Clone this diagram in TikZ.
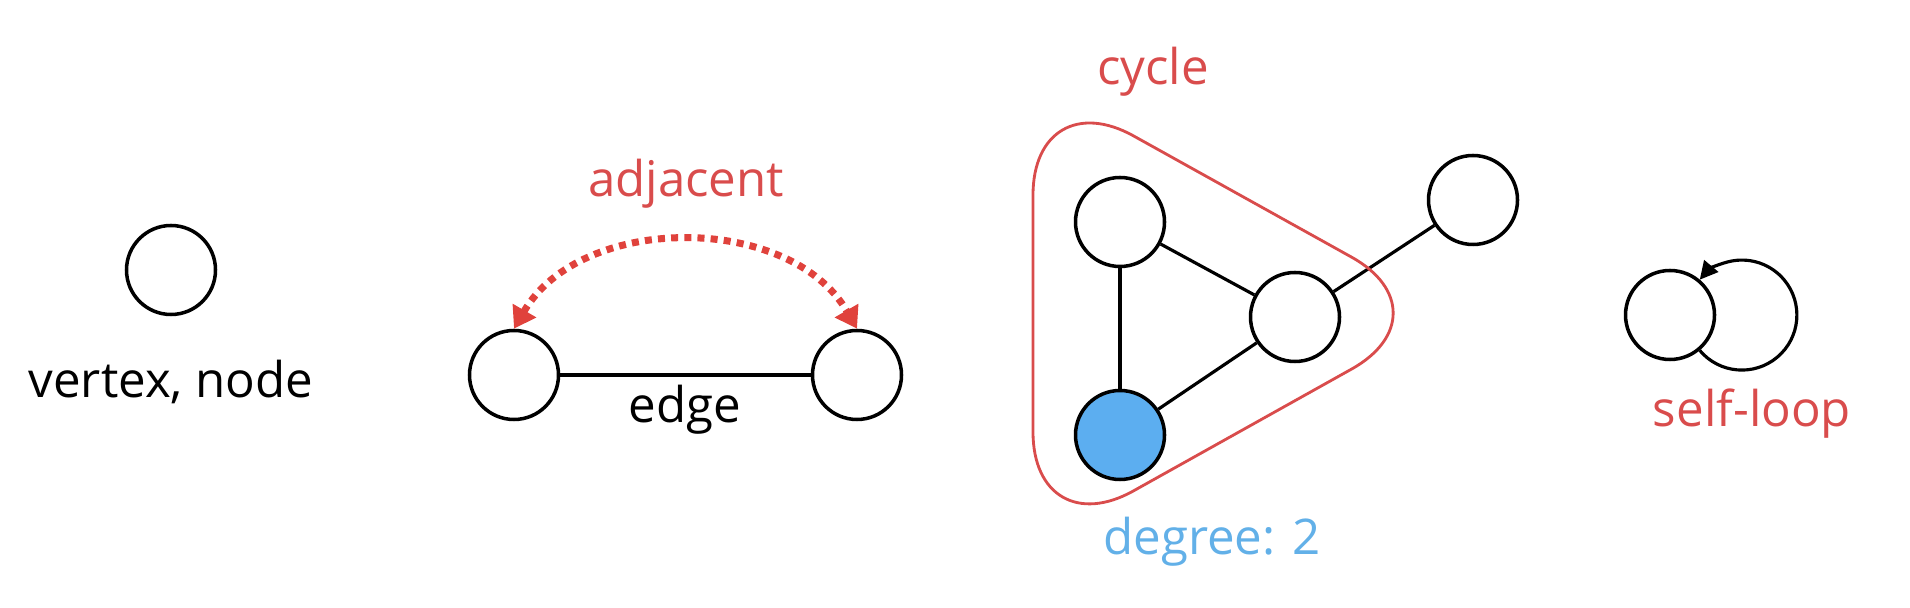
\documentclass[tikz,border=0pt]{standalone}
\usepackage{fontspec}
\setmainfont{Open Sans}
\usepackage{tikz}
\usetikzlibrary{positioning,calc,arrows.meta}

\definecolor{labelred}{RGB}{217,76,76}
\definecolor{arrowred}{RGB}{224,66,60}
\definecolor{degblue}{RGB}{92,174,240}
\definecolor{degtext}{RGB}{98,176,232}

\begin{document}
\begin{tikzpicture}[
    vert/.style={circle,draw,line width=2pt,minimum size=1.78cm,inner sep=0pt},
    degvert/.style={vert,fill=degblue},
    edgeline/.style={line width=1.8pt},
    adjarrow/.style={draw=arrowred,line width=4pt,dash pattern=on 4pt off 3.5pt,
        {Triangle[length=0.42cm,width=0.52cm,fill=arrowred]}-{Triangle[length=0.42cm,width=0.52cm,fill=arrowred]}},
    cyclebox/.style={draw=labelred,line width=1.6pt,rounded corners=2.3cm},
    txt/.style={anchor=base,font=\fontsize{28}{34}\selectfont}
    ]
    \useasboundingbox (0,0) rectangle (38.2,12.16);

    \node[vert] (v) at (3.42,6.76) {};
    \node[txt] (vlabel) at (3.42,4.2) {vertex, node};

    \node[vert] (a) at (10.28,4.66) {};
    \node[vert] (b) at (17.14,4.66) {};
    \draw[edgeline] (a) -- (b);
    \node[txt] (elabel) at (13.7,3.7) {edge};
    \draw[adjarrow] (a.north) to[bend left=60] (b.north);
    \node[txt,text=labelred] (adjlabel) at (13.72,8.22) {adjacent};

    \node[vert] (c1) at (22.4,7.72) {};
    \node[vert] (c2) at (25.9,5.82) {};
    \node[degvert] (c3) at (22.4,3.46) {};
    \node[vert] (c4) at (29.46,8.16) {};
    \draw[edgeline] (c1) -- (c3);
    \draw[edgeline] (c1) -- (c2);
    \draw[edgeline] (c2) -- (c3);
    \draw[edgeline] (c2) -- (c4);
    \draw[cyclebox] (20.66,10.56) -- (29.04,5.9) -- (20.66,1.22) -- cycle;
    \node[txt,text=labelred] (cyclabel) at (23.06,10.46) {cycle};
    \node[txt,text=degtext] (deglabel) at (24.24,1.06) {degree: 2};

    \node[vert] (s) at (33.4,5.86) {};
    \draw[edgeline,-{Triangle[length=0.36cm,width=0.36cm]}] (s.-50) arc[start angle=-140,end angle=140,radius=1.1cm];
    \node[txt,text=labelred] (slabel) at (35.04,3.62) {self-loop};
\end{tikzpicture}
\end{document}
